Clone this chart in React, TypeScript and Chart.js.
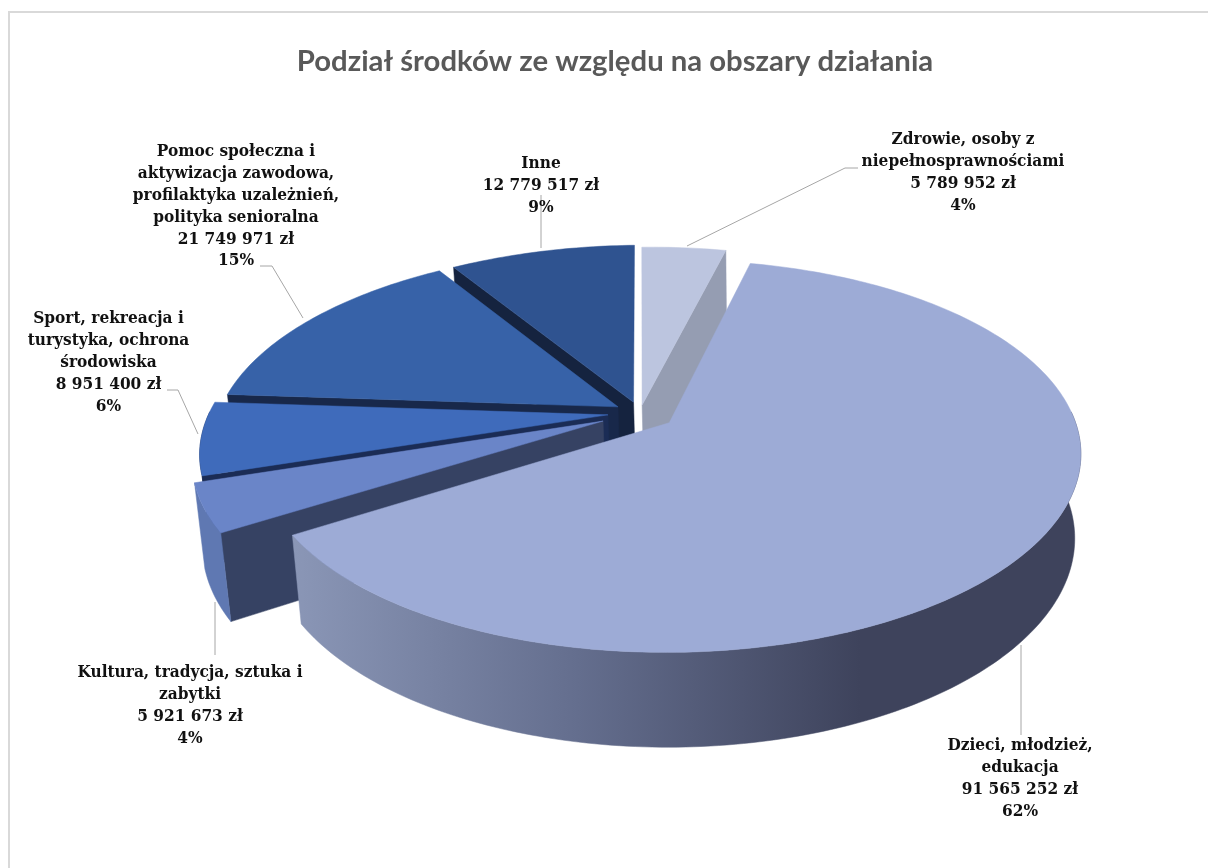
import React, { useEffect, useRef } from "react";
import { Chart, registerables } from "chart.js";

Chart.register(...registerables);

// ---------- data ----------
const categoryLines: string[][] = [
  ["Dzieci, młodzież,", "edukacja"],
  ["Kultura, tradycja, sztuka i", "zabytki"],
  ["Sport, rekreacja i", "turystyka, ochrona", "środowiska"],
  ["Pomoc społeczna i", "aktywizacja zawodowa,", "profilaktyka uzależnień,", "polityka senioralna"],
  ["Inne"],
  ["Zdrowie, osoby z", "niepełnosprawnościami"],
];
const amounts = [91565252, 5921673, 8951400, 21749971, 12779517, 5789952];
const chartTitle = "Podział środków ze względu na obszary działania";

// ---------- style ----------
const topColors = ["#9dabd6", "#6a85c8", "#3f6bbb", "#3762a8", "#2f5390", "#bcc5df"];
const cutColors = ["#7e8aad", "#364263", "#1b2c55", "#18284a", "#15233f", "#959db2"];
const wallColors = ["#3e435c", "#5f78b2", "#1b2c55", "#18284a", "#15233f", "#959db2"];
const explosion = [0.09, 0.1, 0.08, 0.065, 0.06, 0.043];
const paintOrder = [5, 4, 3, 2, 1, 0];
const PROJ = { x0: 640, y0: 413, a: 401, b: 187, k: 0.169, kz: 0.018, depth: 84, lowDx: 2, tilt: -4.5 };

const FONT = 'bold 17.1px "DejaVu Serif Condensed"';
const LINE_H = 21.8;
// centre x, centre y of first line, for each label
const labelAnchors = [
  [1020, 746],
  [190, 673],
  [108.5, 319],
  [236, 152],
  [541, 164],
  [963, 140],
];
// leader lines for each label
const leaders: number[][][] = [
  [[1021, 645], [1021, 735]],
  [[215, 602], [215, 655]],
  [[167, 390], [178, 390], [198, 434]],
  [[260, 266], [272, 266], [303, 318]],
  [[541, 195], [541, 248]],
  [[858, 168], [845, 168], [687, 246]],
];

function project(u: number, v: number, z: number): [number, number] {
  const p = PROJ;
  const w = 1 - p.k * v + p.kz * z;
  return [p.x0 + (p.a * u) / w + p.lowDx * z, p.y0 + (p.b * v + p.depth * z + p.tilt * u) / w];
}

function poly(ctx: CanvasRenderingContext2D, pts: [number, number][], fill: string | CanvasGradient) {
  ctx.beginPath();
  pts.forEach((q, i) => (i ? ctx.lineTo(q[0], q[1]) : ctx.moveTo(q[0], q[1])));
  ctx.closePath();
  ctx.fillStyle = fill;
  ctx.fill();
  ctx.strokeStyle = fill;
  ctx.lineWidth = 0.5;
  ctx.stroke();
}

const pie3d = {
  id: "pie3d",
  beforeDraw(chart: any) {
    const ctx: CanvasRenderingContext2D = chart.ctx;
    ctx.save();
    ctx.strokeStyle = "#d9d9d9";
    ctx.lineWidth = 2;
    ctx.beginPath();
    ctx.moveTo(9, chart.height + 2);
    ctx.lineTo(9, 12);
    ctx.lineTo(chart.width + 2, 12);
    ctx.stroke();
    ctx.restore();
  },
  beforeDatasetDraw(chart: any) {
    const ctx: CanvasRenderingContext2D = chart.ctx;
    const arcs = chart.getDatasetMeta(0).data;
    ctx.save();
    for (const i of paintOrder) {
      const el = arcs[i];
      const a0: number = el.startAngle;
      const a1: number = el.endAngle;
      const mid = (a0 + a1) / 2;
      const e = explosion[i];
      const cu = e * Math.cos(mid);
      const cv = e * Math.sin(mid);
      const n = Math.max(2, Math.ceil(((a1 - a0) * 180) / Math.PI));
      const rim: [number, number][] = [];
      const rimLow: [number, number][] = [];
      const wallTop: [number, number][] = [];
      const wallLow: [number, number][] = [];
      for (let s = 0; s <= n; s++) {
        const a = a0 + ((a1 - a0) * s) / n;
        const pu = cu + Math.cos(a);
        const pv = cv + Math.sin(a);
        const t = project(pu, pv, 0);
        const l = project(pu, pv, 1);
        rim.push(t);
        rimLow.push(l);
        if (Math.sin(a) > -0.05) {
          wallTop.push(t);
          wallLow.push(l);
        }
      }
      const apex = project(cu, cv, 0);
      const apexLow = project(cu, cv, 1);
      // only the cut face that turns towards the viewer is painted
      if (i === 5) poly(ctx, [apex, rim[n], rimLow[n], apexLow], cutColors[i]);
      else if (i !== 0) poly(ctx, [apex, rim[0], rimLow[0], apexLow], cutColors[i]);
      if (wallTop.length > 1) {
        let wall: string | CanvasGradient = wallColors[i];
        if (i === 0) {
          const g = ctx.createLinearGradient(295, 0, 860, 0);
          g.addColorStop(0, "#8a96b6");
          g.addColorStop(0.5, "#646e8e");
          g.addColorStop(1, "#3e435c");
          wall = g;
        }
        poly(ctx, [...wallTop, ...wallLow.slice().reverse()], wall);
      }
      poly(ctx, [apex, ...rim], topColors[i]);
    }
    ctx.restore();
    return false;
  },
  afterDraw(chart: any) {
    const ctx: CanvasRenderingContext2D = chart.ctx;
    const total = amounts.reduce((a, b) => a + b, 0);
    ctx.save();
    ctx.strokeStyle = "#a6a6a6";
    ctx.lineWidth = 1;
    for (const path of leaders) {
      ctx.beginPath();
      path.forEach((q, i) => (i ? ctx.lineTo(q[0], q[1]) : ctx.moveTo(q[0], q[1])));
      ctx.stroke();
    }
    ctx.font = FONT;
    ctx.fillStyle = "#111111";
    ctx.textAlign = "center";
    ctx.textBaseline = "middle";
    amounts.forEach((val, i) => {
      const lines = [
        ...categoryLines[i],
        val.toString().replace(/\B(?=(\d{3})+(?!\d))/g, " ") + " zł",
        Math.round((val / total) * 100) + "%",
      ];
      lines.forEach((t, j) => ctx.fillText(t, labelAnchors[i][0], labelAnchors[i][1] + j * LINE_H));
    });
    ctx.restore();
  },
};

export default function App() {
  const ref = useRef<HTMLCanvasElement>(null);
  useEffect(() => {
    const chart = new Chart(ref.current!, {
      type: "pie",
      data: {
        labels: categoryLines.map((l) => l.join(" ")),
        datasets: [{ data: amounts, backgroundColor: topColors, borderWidth: 0 }],
      },
      options: {
        responsive: false,
        animation: false,
        rotation: 14.2,
        layout: { padding: { left: 22 } },
        plugins: {
          legend: { display: false },
          tooltip: { enabled: false },
          title: {
            display: true,
            text: chartTitle,
            color: "#595959",
            font: { family: "Lato", size: 29.3, weight: "bold" },
            padding: { top: 44, bottom: 10 },
          },
        },
      },
      plugins: [pie3d as any],
    } as any);
    return () => chart.destroy();
  }, []);
  return (
    <div style={{ position: "fixed", inset: 0, background: "#fff" }}>
      <canvas ref={ref} width={1208} height={868} style={{ display: "block" }} />
    </div>
  );
}
